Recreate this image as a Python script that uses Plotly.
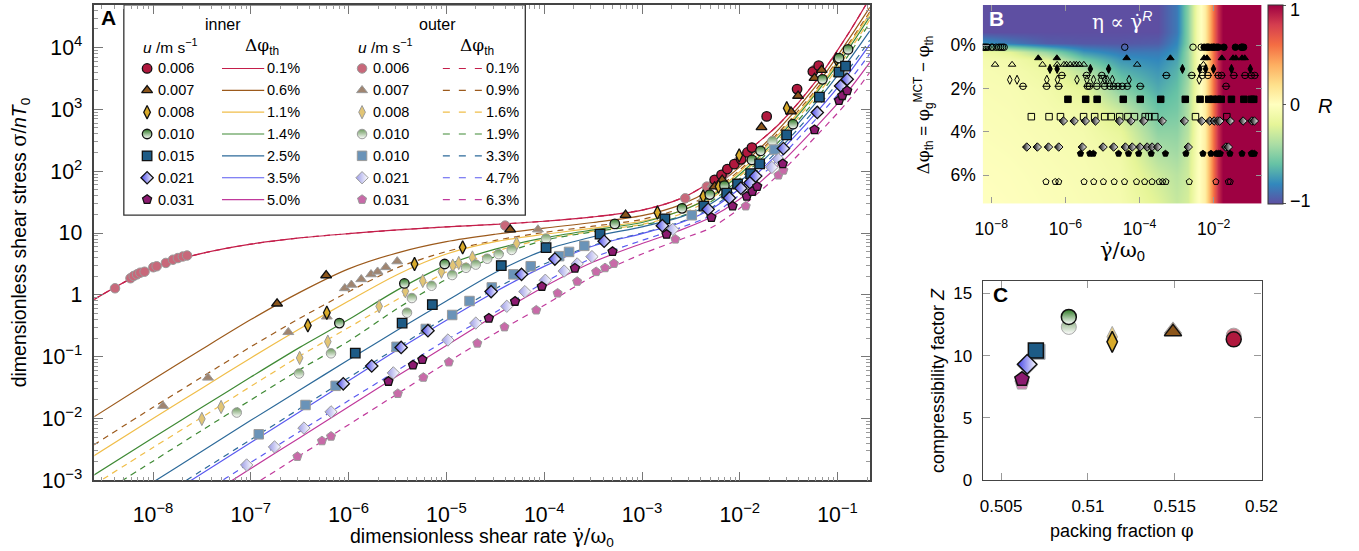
import numpy as np
import plotly.graph_objects as go

W, H = 1359, 551
FONT = "Liberation Sans, Arial, Helvetica, sans-serif"


def pxx(x):
    return x / W


def pyy(y):
    return 1 - y / H


def G(s):
    # Greek / math glyphs set in a serif face that handles the combining dot
    return '<span style="font-family:DejaVu Serif">' + s + '</span>'


GAMMADOT = "\u03b3\u0307"

# ---------------- Panel A: flow curves ----------------
# shear-rate grid of the model curves, log10(γ̇/ω0)
CURVE_LOG_RATE = [-8.61, -8.0, -7.5, -7.0, -6.5, -6.0, -5.5, -5.0, -4.5, -4.0,
                  -3.5, -3.0, -2.6, -2.3, -2.0, -1.6, -1.2, -0.9, -0.67]

# log10(σ/nT0) of the model curves, inner (solid) fits
CURVE_IN_01 = [-0.08, 0.44, 0.67, 0.82, 0.92, 0.99, 1.05, 1.10, 1.14, 1.19, 1.26, 1.37, 1.56, 1.83, 2.22, 2.76, 3.50, 4.20, 4.80]
CURVE_IN_06 = [-1.98, -1.37, -0.88, -0.40, 0.04, 0.42, 0.68, 0.86, 0.98, 1.08, 1.17, 1.28, 1.46, 1.70, 2.07, 2.68, 3.42, 4.10, 4.65]
CURVE_IN_11 = [-2.61, -2.00, -1.51, -1.02, -0.55, -0.10, 0.33, 0.66, 0.86, 0.98, 1.08, 1.19, 1.36, 1.60, 1.99, 2.60, 3.33, 4.00, 4.55]
CURVE_IN_14 = [-2.92, -2.31, -1.82, -1.33, -0.85, -0.40, 0.08, 0.48, 0.74, 0.92, 1.05, 1.17, 1.36, 1.58, 1.95, 2.56, 3.30, 3.95, 4.50]
CURVE_IN_25 = [-3.64, -3.03, -2.53, -2.03, -1.54, -1.05, -0.57, -0.10, 0.36, 0.72, 0.94, 1.10, 1.26, 1.47, 1.83, 2.43, 3.15, 3.76, 4.27]
CURVE_IN_35 = [-4.00, -3.39, -2.89, -2.39, -1.89, -1.39, -0.89, -0.41, 0.05, 0.46, 0.79, 0.99, 1.17, 1.38, 1.72, 2.30, 2.98, 3.55, 4.05]
CURVE_IN_50 = [-4.42, -3.81, -3.31, -2.81, -2.31, -1.81, -1.31, -0.82, -0.33, 0.13, 0.53, 0.83, 1.05, 1.25, 1.55, 2.10, 2.75, 3.28, 3.76]
# outer (dashed) fits
CURVE_OUT_01 = [-0.08, 0.44, 0.67, 0.82, 0.92, 0.99, 1.05, 1.10, 1.14, 1.19, 1.26, 1.37, 1.56, 1.83, 2.22, 2.76, 3.50, 4.20, 4.80]
CURVE_OUT_09 = [-2.43, -1.82, -1.33, -0.84, -0.38, 0.05, 0.44, 0.70, 0.88, 1.01, 1.11, 1.22, 1.40, 1.64, 2.02, 2.63, 3.36, 4.03, 4.58]
CURVE_OUT_16 = [-3.08, -2.47, -1.98, -1.48, -0.99, -0.53, -0.07, 0.37, 0.70, 0.90, 1.03, 1.14, 1.31, 1.55, 1.92, 2.52, 3.25, 3.90, 4.45]
CURVE_OUT_19 = [-3.30, -2.69, -2.19, -1.70, -1.21, -0.75, -0.22, 0.25, 0.62, 0.88, 1.02, 1.13, 1.27, 1.50, 1.88, 2.48, 3.20, 3.85, 4.40]
CURVE_OUT_33 = [-3.95, -3.34, -2.84, -2.34, -1.84, -1.34, -0.85, -0.36, 0.10, 0.50, 0.80, 1.00, 1.18, 1.40, 1.75, 2.35, 3.05, 3.62, 4.12]
CURVE_OUT_47 = [-4.32, -3.71, -3.21, -2.71, -2.21, -1.71, -1.22, -0.73, -0.28, 0.20, 0.60, 0.88, 1.09, 1.28, 1.62, 2.20, 2.88, 3.42, 3.90]
CURVE_OUT_63 = [-4.71, -4.10, -3.60, -3.10, -2.60, -2.10, -1.60, -1.10, -0.62, -0.17, 0.30, 0.66, 0.90, 1.08, 1.40, 1.95, 2.60, 3.12, 3.60]

# measured flow curves: log10 rate / log10 stress, inner probe
IN_006_LX = [-2.257, -2.187, -2.127, -2.056, -1.986, -1.922, -1.876, -1.725, -1.414, -1.253, -1.193]
IN_006_LY = [1.861, 1.940, 2.035, 2.114, 2.192, 2.303, 2.382, 2.886, 3.328, 3.612, 3.707]
IN_007_LX = [-6.732, -6.230, -4.348, -3.168, -2.257, -2.180, -1.778, -1.477, -1.404, -1.236, -1.163]
IN_007_LY = [-0.142, 0.315, 1.057, 1.293, 1.751, 1.860, 2.712, 2.965, 3.218, 3.506, 3.636]
IN_008_LX = [-6.417, -6.223, -5.326, -4.834, -2.842, -2.374, -2.217, -2.006, -1.520, -1.012]
IN_008_LY = [-0.494, -0.289, 0.499, 0.768, 1.331, 1.593, 1.751, 2.256, 3.020, 3.812]
IN_010_LX = [-6.095, -5.430, -5.018, -3.278, -2.591, -2.307, -2.157, -1.876, -1.788, -1.456, -1.155, -0.985, -0.893]
IN_010_LY = [-0.457, 0.184, 0.499, 1.147, 1.399, 1.621, 1.767, 2.182, 2.329, 2.760, 3.486, 3.829, 3.970]
IN_015_LX = [-5.932, -5.453, -5.144, -4.439, -3.981, -3.429, -2.766, -2.367, -2.134, -2.023, -1.889, -1.797, -1.521, -1.186, -0.985, -0.919]
IN_015_LY = [-0.942, -0.457, -0.158, 0.473, 0.763, 0.981, 1.230, 1.435, 1.645, 1.793, 1.960, 2.118, 2.586, 3.197, 3.601, 3.700]
IN_021_LX = [-6.055, -5.764, -5.463, -5.189, -4.543, -4.232, -3.891, -3.387, -2.792, -2.324, -2.106, -1.989, -1.896, -1.838, -1.554, -1.208, -0.969, -0.902]
IN_021_LY = [-1.439, -1.151, -0.851, -0.580, 0.052, 0.331, 0.579, 0.867, 1.119, 1.383, 1.567, 1.725, 1.814, 1.920, 2.367, 2.950, 3.380, 3.486]
IN_031_LX = [-5.593, -5.342, -5.246, -4.566, -4.298, -4.024, -3.686, -3.301, -2.749, -2.290, -2.073, -1.929, -1.872, -1.822, -1.561, -1.236, -0.985, -0.952, -0.902]
IN_031_LY = [-1.400, -1.137, -1.048, -0.379, -0.106, 0.136, 0.431, 0.699, 0.978, 1.251, 1.435, 1.593, 1.672, 1.751, 2.119, 2.671, 3.144, 3.222, 3.301]

# outer probe
OUT_006_LX = [-8.389, -8.231, -8.198, -8.164, -8.131, -8.087, -7.997, -7.963, -7.869, -7.796, -7.746, -7.696, -7.652, -4.399, -2.558, -2.337, -2.157, -2.006, -1.233]
OUT_006_LY = [0.106, 0.268, 0.305, 0.331, 0.358, 0.374, 0.446, 0.462, 0.516, 0.568, 0.595, 0.620, 0.636, 1.120, 1.562, 1.751, 1.956, 2.177, 3.644]
OUT_007_LX = [-7.897, -7.438, -6.617, -6.223, -6.039, -5.972, -5.871, -5.771, -5.704, -5.620, -5.503, -4.064, -2.277]
OUT_007_LY = [-1.798, -1.341, -0.604, -0.352, 0.106, 0.162, 0.252, 0.331, 0.374, 0.446, 0.541, 1.057, 1.782]
OUT_008_LX = [-7.501, -7.304, -6.501, -6.213, -5.688, -5.420, -5.242, -5.051, -4.935, -4.874, -4.734, -4.282, -2.390]
OUT_008_LY = [-2.007, -1.814, -1.020, -0.757, -0.185, 0.058, 0.225, 0.374, 0.473, 0.516, 0.604, 0.831, 1.511]
OUT_010_LX = [-7.144, -6.507, -6.180, -5.403, -5.353, -5.152, -4.941, -4.800, -4.700, -4.583, -4.466, -4.332, -3.981, -1.667]
OUT_010_LY = [-1.904, -1.273, -0.946, -0.289, -0.052, 0.147, 0.320, 0.437, 0.489, 0.584, 0.658, 0.726, 0.909, 2.486]
OUT_010S_LX = [-6.919, -6.441, -6.133, -5.510, -5.211, -4.941, -4.764, -4.536, -4.315, -4.138, -3.847, -3.746, -3.590, -2.491, -1.645]
OUT_010S_LY = [-2.256, -1.782, -1.472, -0.841, -0.552, -0.326, -0.100, 0.120, 0.331, 0.463, 0.626, 0.694, 0.792, 1.288, 2.350]
OUT_021_LX = [-7.043, -6.758, -6.457, -6.180, -5.543, -4.985, -4.700, -4.383, -4.198, -3.989, -3.796, -3.663, -3.512, -2.686, -1.672, -1.605]
OUT_021_LY = [-2.752, -2.460, -2.155, -1.893, -1.262, -0.731, -0.457, -0.185, 0.052, 0.236, 0.384, 0.500, 0.618, 1.057, 2.061, 2.192]
OUT_031_LX = [-6.524, -6.273, -6.180, -5.497, -5.236, -4.975, -4.684, -4.406, -4.081, -3.863, -3.663, -3.469, -3.378, -3.288, -2.659, -1.939, -1.605, -1.554]
OUT_031_LY = [-2.616, -2.363, -2.289, -1.598, -1.336, -1.088, -0.784, -0.521, -0.248, 0.026, 0.216, 0.373, 0.436, 0.506, 0.899, 1.435, 1.935, 2.014]

# legend entries
U_INNER = ["0.006", "0.007", "0.008", "0.010", "0.015", "0.021", "0.031"]
U_OUTER = ["0.006", "0.007", "0.008", "0.010", "0.010", "0.021", "0.031"]
DPHI_INNER = [0.1, 0.6, 1.1, 1.4, 2.5, 3.5, 5.0]
DPHI_OUTER = [0.1, 0.9, 1.6, 1.9, 3.3, 4.7, 6.3]

# ---------------- Panel B: local exponent R ----------------
B_LOG_RATE = [-8.3, -7.5, -6.5, -5.5, -4.5, -3.5, -3.0, -2.7, -2.45, -2.25, -2.05, -1.9, -1.75, -1.0, -0.6]
B_DPHI = [-2.0, -0.6, -0.1, 0.3, 0.7, 1.2, 2.0, 3.0, 4.0, 5.0, 6.0, 7.5]
B_R = [
    [-1.00, -1.00, -1.00, -1.00, -1.00, -1.00, -0.85, -0.50, -0.10, 0.10, 0.50, 0.85, 1.0, 1.0, 1.0],
    [-1.00, -1.00, -1.00, -1.00, -1.00, -1.00, -0.85, -0.50, -0.10, 0.10, 0.50, 0.85, 1.0, 1.0, 1.0],
    [-0.75, -0.85, -0.95, -0.97, -0.97, -0.95, -0.80, -0.50, -0.10, 0.10, 0.50, 0.85, 1.0, 1.0, 1.0],
    [-0.12, -0.20, -0.45, -0.75, -0.85, -0.85, -0.75, -0.45, -0.10, 0.10, 0.50, 0.85, 1.0, 1.0, 1.0],
    [-0.08, -0.10, -0.20, -0.55, -0.75, -0.80, -0.70, -0.45, -0.10, 0.10, 0.50, 0.85, 1.0, 1.0, 1.0],
    [-0.06, -0.08, -0.14, -0.35, -0.65, -0.75, -0.65, -0.45, -0.10, 0.10, 0.50, 0.85, 1.0, 1.0, 1.0],
    [-0.05, -0.06, -0.10, -0.20, -0.50, -0.68, -0.60, -0.40, -0.10, 0.10, 0.50, 0.85, 1.0, 1.0, 1.0],
    [-0.04, -0.05, -0.08, -0.12, -0.30, -0.58, -0.55, -0.38, -0.08, 0.10, 0.50, 0.85, 1.0, 1.0, 1.0],
    [-0.03, -0.04, -0.06, -0.09, -0.18, -0.48, -0.48, -0.35, -0.06, 0.10, 0.50, 0.85, 1.0, 1.0, 1.0],
    [-0.02, -0.03, -0.05, -0.07, -0.12, -0.38, -0.42, -0.30, -0.05, 0.10, 0.50, 0.85, 1.0, 1.0, 1.0],
    [-0.01, -0.02, -0.04, -0.06, -0.10, -0.28, -0.35, -0.28, -0.04, 0.10, 0.50, 0.85, 1.0, 1.0, 1.0],
    [0.00, -0.01, -0.03, -0.05, -0.08, -0.20, -0.30, -0.25, -0.03, 0.10, 0.50, 0.85, 1.0, 1.0, 1.0],
]
R_TICKS = [1, 0, -1]

# ---------------- Panel C: compressibility factor ----------------
PHI_INNER = [0.5184, 0.5149, 0.5114, 0.5089, 0.5070, 0.5065, 0.5062]
Z_INNER = [11.3, 11.9, 11.1, 13.1, 10.4, 9.3, 8.1]
PHI_OUTER = [0.5184, 0.5149, 0.5114, 0.5089, 0.5071, 0.5065, 0.5062]
Z_OUTER = [11.6, 12.1, 11.5, 12.3, 10.3, 9.2, 7.8]

# ---------------- styles ----------------
LINE_COLORS = ["#c41e4a", "#9c5a1c", "#f0be4a", "#3f8a35", "#2d6a9a", "#5a5af0", "#c0399b"]
SYMBOLS = ["circle", "triangle-up", "diamond-tall", "circle", "square", "diamond", "pentagon"]
HALF = [None, None, None, "vertical", None, "horizontal", None]
FILL_INNER = ["#b0183e", "#8c561b", "#d8aa2a", "#2f7a26", "#1d5b86", "#4444e6", "#8c1a70"]
FILL_OUTER = ["#c8687a", "#a08570", "#e2c575", "#6d9a5e", "#6a93b8", "#9a9ae6", "#c86aa8"]
EDGE_INNER = "#111111"
EDGE_OUTER = "#9a9a9a"
DASH = "6px,5px"

INNER_LX = [IN_006_LX, IN_007_LX, IN_008_LX, IN_010_LX, IN_015_LX, IN_021_LX, IN_031_LX]
INNER_LY = [IN_006_LY, IN_007_LY, IN_008_LY, IN_010_LY, IN_015_LY, IN_021_LY, IN_031_LY]
OUTER_LX = [OUT_006_LX, OUT_007_LX, OUT_008_LX, OUT_010_LX, OUT_010S_LX, OUT_021_LX, OUT_031_LX]
OUTER_LY = [OUT_006_LY, OUT_007_LY, OUT_008_LY, OUT_010_LY, OUT_010S_LY, OUT_021_LY, OUT_031_LY]
CURVES_IN = [CURVE_IN_01, CURVE_IN_06, CURVE_IN_11, CURVE_IN_14, CURVE_IN_25, CURVE_IN_35, CURVE_IN_50]
CURVES_OUT = [CURVE_OUT_01, CURVE_OUT_09, CURVE_OUT_16, CURVE_OUT_19, CURVE_OUT_33, CURVE_OUT_47, CURVE_OUT_63]


def marker(i, fill, edge, size, lw):
    # half-filled symbols: coloured half on top (circle) or on the left (diamond)
    m = dict(symbol=SYMBOLS[i], size=size, color=fill, line=dict(color=edge, width=lw))
    if HALF[i]:
        m["gradient"] = dict(type=HALF[i], color="white")
    return m


fig = go.Figure()
rate = np.power(10.0, CURVE_LOG_RATE)

# model curves
for i in range(7):
    fig.add_trace(go.Scatter(x=rate, y=np.power(10.0, CURVES_OUT[i]), mode="lines",
                             line=dict(color=LINE_COLORS[i], width=1.2, dash=DASH, shape="spline", smoothing=0.8),
                             xaxis="x", yaxis="y", hoverinfo="skip"))
for i in range(7):
    fig.add_trace(go.Scatter(x=rate, y=np.power(10.0, CURVES_IN[i]), mode="lines",
                             line=dict(color=LINE_COLORS[i], width=1.2, shape="spline", smoothing=0.8),
                             xaxis="x", yaxis="y", hoverinfo="skip"))
# measured points
for i in range(7):
    fig.add_trace(go.Scatter(x=np.power(10.0, OUTER_LX[i]), y=np.power(10.0, OUTER_LY[i]), mode="markers",
                             marker=marker(i, FILL_OUTER[i], EDGE_OUTER, 9.5, 1.0), xaxis="x", yaxis="y"))
for i in range(7):
    fig.add_trace(go.Scatter(x=np.power(10.0, INNER_LX[i]), y=np.power(10.0, INNER_LY[i]), mode="markers",
                             marker=marker(i, FILL_INNER[i], EDGE_INNER, 9.5, 1.3), xaxis="x", yaxis="y"))

# ---- Panel B heatmap and sampled states ----
SPECTRAL_R = [[0.0, "#5e4fa2"], [0.1, "#3288bd"], [0.2, "#66c2a5"], [0.3, "#abdda4"], [0.4, "#e6f598"],
              [0.5, "#ffffbf"], [0.6, "#fee08b"], [0.7, "#fdae61"], [0.8, "#f46d43"], [0.9, "#d53e4f"], [1.0, "#9e0142"]]
fig.add_trace(go.Heatmap(x=B_LOG_RATE, y=B_DPHI, z=B_R, zmin=-1, zmax=1, zsmooth="best",
                         colorscale=SPECTRAL_R, xaxis="x2", yaxis="y2",
                         colorbar=dict(x=1284 / W, xanchor="left", y=pyy(5), yanchor="top",
                                       len=(208 - 5) / H, lenmode="fraction", thickness=15,
                                       thicknessmode="pixels", xpad=0, ypad=0,
                                       outlinewidth=1, outlinecolor="#333",
                                       tickvals=[-0.995, 0, 0.995], showticklabels=False,
                                       ticks="outside", ticklen=3, tickcolor="#555")))

B_SYM_IN = ["circle", "triangle-up", "diamond-tall", "circle-open", "square", "diamond", "pentagon"]
B_SYM_OUT = ["circle-open", "triangle-up-open", "diamond-tall-open", "circle-open", "square-open", "diamond", "pentagon-open"]


def b_points(lx, dphi, sym, i):
    m = dict(symbol=sym, size=6.5, color="black", line=dict(color="black", width=1))
    if HALF[i] == "horizontal":
        m["gradient"] = dict(type="horizontal", color="white")
    fig.add_trace(go.Scatter(x=lx, y=[dphi] * len(lx), mode="markers", marker=m, xaxis="x2", yaxis="y2"))
    if HALF[i] == "vertical":
        fig.add_trace(go.Scatter(x=lx, y=[dphi] * len(lx), mode="markers", xaxis="x2", yaxis="y2",
                                 marker=dict(symbol="line-ew", size=6, line=dict(color="black", width=1))))


for i in range(7):
    b_points(OUTER_LX[i], DPHI_OUTER[i], B_SYM_OUT[i], i)
    b_points(INNER_LX[i], DPHI_INNER[i], B_SYM_IN[i], i)

# ---- Panel C ----
for i in range(7):
    fig.add_trace(go.Scatter(x=[PHI_OUTER[i]], y=[Z_OUTER[i]], mode="markers", xaxis="x3", yaxis="y3",
                             marker=marker(i, FILL_OUTER[i], EDGE_OUTER, 15, 1.0), opacity=0.85))
for i in range(7):
    fig.add_trace(go.Scatter(x=[PHI_INNER[i]], y=[Z_INNER[i]], mode="markers", xaxis="x3", yaxis="y3",
                             marker=marker(i, FILL_INNER[i], EDGE_INNER, 15, 1.5)))

# ---- Panel A legend (overlay axis in pixel units) ----
ROW_Y = [70, 92.3, 114.7, 137, 159.3, 181.7, 204]
for i in range(7):
    fig.add_trace(go.Scatter(x=[141.7], y=[ROW_Y[i]], mode="markers", xaxis="x4", yaxis="y4",
                             marker=marker(i, FILL_INNER[i], EDGE_INNER, 9.5, 1.3)))
    fig.add_trace(go.Scatter(x=[360.7], y=[ROW_Y[i]], mode="markers", xaxis="x4", yaxis="y4",
                             marker=marker(i, FILL_OUTER[i], EDGE_OUTER, 9.5, 1.0)))

shapes = [dict(type="rect", xref="paper", yref="paper", x0=pxx(118), x1=pxx(527), y0=pyy(220), y1=pyy(5),
               line=dict(color="#333", width=1.3), fillcolor="white", layer="below")]
annotations = []


def text(x, y, s, size=14, xanchor="center", yanchor="middle", color="black", angle=0, bold=False):
    if bold:
        s = "<b>" + s + "</b>"
    annotations.append(dict(x=pxx(x), y=pyy(y), xref="paper", yref="paper", text=s, showarrow=False,
                            xanchor=xanchor, yanchor=yanchor, textangle=angle,
                            font=dict(size=size, color=color, family=FONT)))


for i in range(7):
    y = ROW_Y[i]
    shapes.append(dict(type="line", xref="paper", yref="paper", x0=pxx(218), x1=pxx(261), y0=pyy(y), y1=pyy(y),
                       line=dict(color=LINE_COLORS[i], width=1.2), layer="above"))
    shapes.append(dict(type="line", xref="paper", yref="paper", x0=pxx(443), x1=pxx(484), y0=pyy(y), y1=pyy(y),
                       line=dict(color=LINE_COLORS[i], width=1.2, dash="7px,9px"), layer="above"))
    text(151, y, U_INNER[i], 14.5, xanchor="left")
    text(370, y, U_OUTER[i], 14.5, xanchor="left")
    text(300, y, f"{DPHI_INNER[i]:.1f}%", 14.5, xanchor="right")
    text(523, y, f"{DPHI_OUTER[i]:.1f}%", 14.5, xanchor="right")

DPHI_TH = G("\u0394\u03c6") + "<sub>th</sub>"
text(219, 25, "inner", 16)
text(438, 25, "outer", 16)
text(135, 47, "<i>u</i> /m s<sup>\u22121</sup>", 15.5, xanchor="left")
text(355, 47, "<i>u</i> /m s<sup>\u22121</sup>", 15.5, xanchor="left")
text(259, 48, DPHI_TH, 17)
text(478, 48, DPHI_TH, 17)

# panel letters and titles
text(93, 18, "A", 21, xanchor="left", bold=True)
text(997, 19, "B", 21, xanchor="left", color="white", bold=True)
text(1001, 301, "C", 21, xanchor="left", bold=True)
text(1135, 21, G("\u03b7 \u221d " + GAMMADOT) + "<sup><i>R</i></sup>", 20, color="white")
text(1342, 108, "<i>R</i>", 20)
# colour-bar labels
for v, ypix in zip(R_TICKS, [10, 107, 205]):
    text(1304, ypix, str(v).replace("-", "\u2212"), 18, xanchor="left")

text(483, 549, "dimensionless shear rate " + G(GAMMADOT + "/\u03c9") + "<sub>0</sub>", 19.5)
text(13, 248, "dimensionless shear stress " + G("\u03c3") + "/<i>nT</i><sub>0</sub>", 19.5, angle=-90)
text(1135, 257, G(GAMMADOT + "/\u03c9") + "<sub>0</sub>", 21)
text(933, 107, DPHI_TH + " = " + G("\u03c6") + "<sub>g</sub><sup>MCT</sup> \u2212 " + G("\u03c6") + "<sub>th</sub>",
     17, angle=-90)
text(1135, 542, "packing fraction " + G("\u03c6"), 18)
text(947, 389, "compressibility factor <i>Z</i>", 18, angle=-90)

tickfontA = dict(size=17, family=FONT, color="black")
tickfontB = dict(size=17.5, family=FONT, color="black")
tickfontC = dict(size=17, family=FONT, color="black")
A_X = [pxx(88), pxx(878)]
A_Y = [pyy(491), pyy(5)]
B_X = [pxx(993), pxx(1277)]
B_Y = [pyy(208), pyy(5)]
C_Y = [pyy(491), pyy(287)]

minor_log = dict(ticks="inside", ticklen=4, tickcolor="#999", dtick="D1", showgrid=False)

fig.update_layout(
    width=W, height=H, margin=dict(l=0, r=0, t=0, b=0), autosize=False,
    paper_bgcolor="white", plot_bgcolor="white", showlegend=False,
    font=dict(family=FONT, color="black"),
    shapes=shapes, annotations=annotations,
    xaxis=dict(domain=A_X, type="log", range=[-8.60, -0.67], anchor="y", dtick=1, exponentformat="power",
               showgrid=False, zeroline=False, ticks="inside", ticklen=9, tickcolor="#777",
               showline=True, linecolor="#444", linewidth=1.5, mirror="ticks", tickfont=tickfontA,
               ticklabelstandoff=15, minor=minor_log),
    yaxis=dict(domain=A_Y, type="log", range=[-3, 4.69], anchor="x", dtick=1, exponentformat="power",
               showgrid=False, zeroline=False, ticks="inside", ticklen=9, tickcolor="#777",
               showline=True, linecolor="#444", linewidth=1.5, mirror="ticks", tickfont=tickfontA,
               ticklabelstandoff=7, minor=minor_log),
    xaxis2=dict(domain=B_X, range=[-8.23, -0.71], anchor="y2", tickvals=[-8, -6, -4, -2],
                ticktext=["10<sup>\u22128</sup>", "10<sup>\u22126</sup>", "10<sup>\u22124</sup>", "10<sup>\u22122</sup>"],
                showgrid=False, zeroline=False, ticks="inside", ticklen=6, tickcolor="#999",
                showline=False, mirror="ticks", tickfont=tickfontB, ticklabelstandoff=13),
    yaxis2=dict(domain=B_Y, range=[7.3, -1.85], anchor="x2", tickvals=[0, 2, 4, 6],
                ticktext=["0%", "2%", "4%", "6%"],
                showgrid=False, zeroline=False, ticks="inside", ticklen=6, tickcolor="#999",
                showline=False, mirror="ticks", tickfont=tickfontB, ticklabelstandoff=6),
    xaxis3=dict(domain=B_X, range=[0.50394, 0.520], anchor="y3", tickvals=[0.505, 0.51, 0.515, 0.52],
                ticktext=["0.505", "0.51", "0.515", "0.52"],
                showgrid=False, zeroline=False, ticks="inside", ticklen=7, tickcolor="#999",
                showline=True, linecolor="#444", linewidth=1.3, mirror="ticks", tickfont=tickfontC,
                ticklabelstandoff=10),
    yaxis3=dict(domain=C_Y, range=[0, 16.0], anchor="x3", tickvals=[0, 5, 10, 15],
                showgrid=False, zeroline=False, ticks="inside", ticklen=7, tickcolor="#999",
                showline=True, linecolor="#444", linewidth=1.3, mirror="ticks", tickfont=tickfontC,
                ticklabelstandoff=6),
    xaxis4=dict(overlaying="x", range=[88, 878], visible=False, anchor="y4"),
    yaxis4=dict(overlaying="y", range=[491, 5], visible=False, anchor="x4"),
)

fig.write_html("out.html")
